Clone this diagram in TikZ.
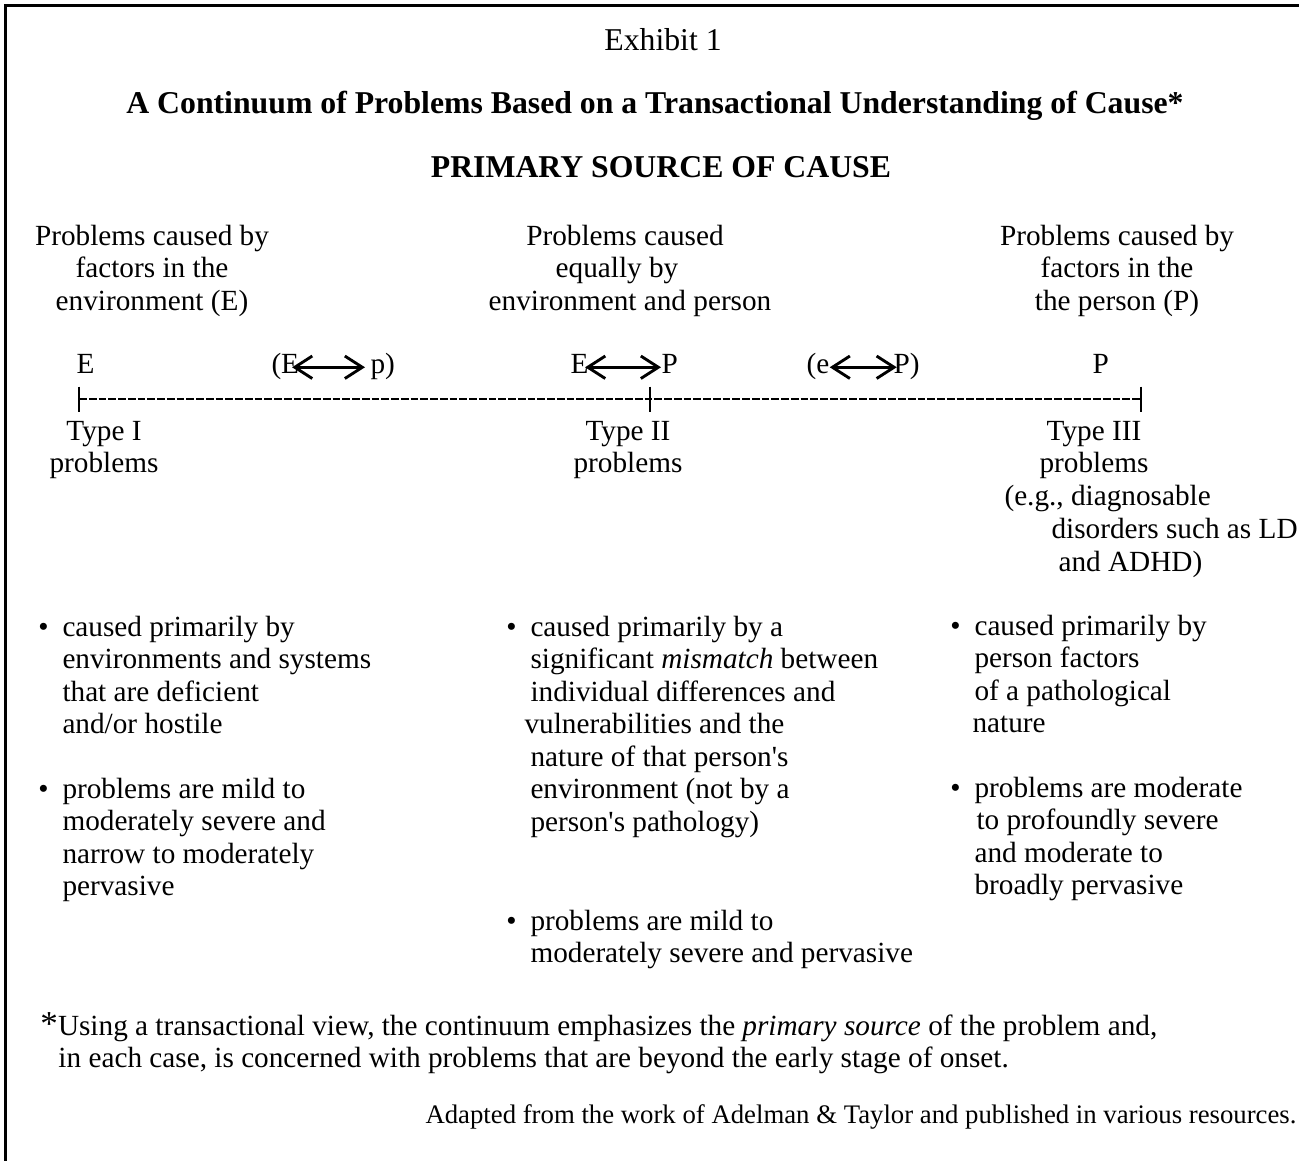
\documentclass[tikz,border=0pt]{standalone}
\usepackage{fontspec}
\setmainfont{Liberation Serif}
\usetikzlibrary{arrows.meta}
\usetikzlibrary{positioning}
\newcommand{\textlines}[2][l]{\begin{tabular}[t]{@{}#1@{}}#2\end{tabular}}

\begin{document}
\begin{tikzpicture}[x=0.4pt, y=-0.4pt,
		txt/.style={inner sep=0pt, anchor=base west, font=\fontsize{11.7}{13}\selectfont},
		ctr/.style={txt, anchor=base},
		head/.style={ctr, font=\fontsize{12.7}{14}\selectfont\bfseries},
		twoway/.style={{Straight Barb[length=7pt,width=9pt]}-{Straight Barb[length=7pt,width=9pt]}, line width=1.15pt},
		scaleline/.style={line width=0.45pt}]
		\useasboundingbox (0,0) rectangle (1299,1161);
		
		%Frame
		\draw[line width=1pt] (1299,5.5) -- (5.5,5.5) -- (5.5,1161);
		
		%Titles
		\node[ctr, font=\fontsize{12.7}{14}\selectfont] (exhibit) at (663,50) {Exhibit 1};
		\node[head] (title) at (655,113) {A Continuum of Problems Based on a Transactional Understanding of Cause*};
		\node[head] (source) at (661,177) {PRIMARY SOURCE OF CAUSE};
		
		%Column headings
		\node[ctr] (hdE) at (152,245) {\textlines[c]{Problems caused by\\factors in the\\environment (E)}};
		\node[ctr] (hdEP) at (625,245) {\textlines[c]{Problems caused\\equally by\hspace*{6.4pt}\\\hspace*{4pt}environment and person}};
		\node[ctr] (hdP) at (1117,245) {\textlines[c]{Problems caused by\\factors in the\\the person (P)}};
		
		%Letters over the scale
		\node[txt] (sE) at (76,373) {E};
		\node[txt] (lE) at (271,373) {(E};
		\node[txt] (lp) at (370,373) {p)};
		\node[txt] (mE) at (570,373) {E};
		\node[txt] (mP) at (661,373) {P};
		\node[txt] (re) at (806,373) {(e};
		\node[txt] (rP) at (893,373) {P)};
		\node[txt] (sP) at (1092,373) {P};
		\draw[twoway, shorten <=-3pt, shorten >=2pt] (lE.mid east) -- (lp.mid west);
		\draw[twoway, shorten <=-1.5pt] (mE.mid east) -- (mP.mid west);
		\draw[twoway, shorten >=-1.5pt] (re.mid east) -- (rP.mid west);
		
		%Scale
		\coordinate (tI) at (79,399);
		\coordinate (tII) at (650,399);
		\coordinate (tIII) at (1141,399);
		\draw[scaleline, dash pattern=on 3.1pt off 0.8pt] (tI) -- (tII) -- (tIII);
		\foreach \t in {tI,tII,tIII}
			\draw[scaleline] ([yshift=5pt]\t) -- ([yshift=-5pt]\t);
		
		%Types
		\node[ctr] (typeI) at (104,440) {\textlines[c]{Type I\\problems}};
		\node[ctr] (typeII) at (628,440) {\textlines[c]{Type II\\problems}};
		\node[ctr] (typeIII) at (1094,440) {\textlines[c]{Type III\\problems}};
		\node[txt] (eg1) at (1004,505) {(e.g., diagnosable};
		\node[txt] (eg2) at (1051,538) {disorders such as LD};
		\node[txt] (eg3) at (1058,571) {and ADHD)};
		
		%Bullet lists
		\node[txt] (envA) at (62,636) {\textlines{caused primarily by\\environments and systems\\that are deficient\\and/or hostile}};
		\node[txt] (envB) at (62,798) {\textlines{problems are mild to\\moderately severe and\\narrow to moderately\\pervasive}};
		\node[txt] (matchA) at (530,636) {\textlines{caused primarily by a\\significant \textit{mismatch} between\\individual differences and\\\hspace*{-2.4pt}vulnerabilities and the\\nature of that person\textquotesingle s\\environment (not by a\\person\textquotesingle s pathology)}};
		\node[txt] (matchB) at (530,930) {\textlines{problems are mild to\\moderately severe and pervasive}};
		\node[txt] (perA) at (974,635) {\textlines{caused primarily by\\person factors\\of a pathological\\\hspace*{-0.8pt}nature}};
		\node[txt] (perB) at (974,797) {\textlines{problems are moderate\\\hspace*{0.8pt}to profoundly severe\\and moderate to\\broadly pervasive}};
		\foreach \b in {envA,envB,matchA,matchB,perA,perB}
			\node[txt, base left=5.2pt of \b] (dot-\b) {\textbullet};
		
		%Footnote
		\node[txt] (note) at (40,1035) {\textlines{{\fontsize{14}{14}\selectfont*}Using a transactional view, the continuum emphasizes the \textit{primary source} of the problem and,\\\hspace*{7.2pt}in each case, is concerned with problems that are beyond the early stage of onset.}};
		\node[txt, font=\fontsize{10.7}{12}\selectfont] (credit) at (425,1123) {Adapted from the work of Adelman \& Taylor and published in various resources.};
	\end{tikzpicture}
\end{document}
